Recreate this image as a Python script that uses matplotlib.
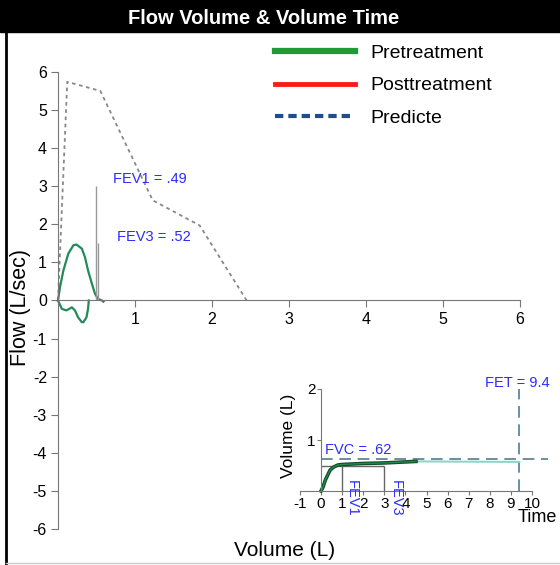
import numpy as np
import matplotlib.pyplot as plt
from matplotlib.lines import Line2D
from matplotlib.patches import Rectangle

plt.rcParams['font.family'] = ['Liberation Sans', 'DejaVu Sans']
plt.rcParams['axes.unicode_minus'] = False

title = "Flow Volume & Volume Time"

# flow-volume loop (pretreatment)
loop_vol = [0, 0.026, 0.07, 0.134, 0.2, 0.24, 0.31, 0.35, 0.39, 0.44, 0.48, 0.52, 0.57, 0.59]
loop_flow = [0, 0.35, 0.79, 1.23, 1.45, 1.47, 1.36, 1.14, 0.79, 0.44, 0.18, 0.04, 0.0, -0.03]
insp_vol = [0, 0.05, 0.11, 0.18, 0.22, 0.26, 0.31, 0.33, 0.37, 0.39, 0.40]
insp_flow = [0, -0.22, -0.26, -0.18, -0.26, -0.44, -0.57, -0.57, -0.44, -0.22, 0.0]

# predicted flow-volume
pred_vol = [0, 0.12, 0.55, 1.23, 1.84, 2.45]
pred_flow = [0, 5.74, 5.5, 2.63, 1.97, 0]

fev1_vol, fev1_mark = 0.49, 3.0
fev3_vol, fev3_mark = 0.52, 1.5

# volume-time (inset)
vt_time = [0, 0.1, 0.2, 0.43, 0.6, 0.8, 1.0, 1.5, 2.0, 3.0, 4.0, 4.5]
vt_vol = [0, 0.08, 0.21, 0.41, 0.47, 0.51, 0.52, 0.53, 0.54, 0.55, 0.57, 0.58]
tail_time = [4.5, 9.4]
tail_vol = [0.58, 0.57]
fvc = 0.62
fet = 9.4

legend_labels = ["Pretreatment", "Posttreatment", "Predicte"]
legend_colors = ["#1f9a3a", "#ff1a1a", "#1f4e8c"]

W, H = 560, 565
fig = plt.figure(figsize=(W / 100, H / 100), dpi=100)


def fx(px):
    return px / W


def fy(py):
    return 1 - py / H


# title bar and frame
fig.patches.append(Rectangle((0, fy(32)), 1, 32 / H, transform=fig.transFigure,
                             color="black", zorder=0))
fig.text(fx(264), fy(18), title, color="white", fontsize=14.5, fontweight="bold",
         ha="center", va="center")
fig.add_artist(Line2D([fx(6), fx(6)], [fy(32), 0], transform=fig.transFigure,
                      color="black", lw=2))
fig.add_artist(Line2D([fx(6), 1], [fy(563), fy(563)], transform=fig.transFigure,
                      color="#cccccc", lw=1))

# main axes: 0 -> px 58, 77 px per unit; y 0 -> px 300, 38 px per unit
x0, xs = 58, 77
y0, ys = 300.5, 38.1
l, r, t, b = 40, 545, 55, 545
ax = fig.add_axes([fx(l), fy(b), (r - l) / W, (b - t) / H])
ax.set_xlim((l - x0) / xs, (r - x0) / xs)
ax.set_ylim((y0 - b) / ys, (y0 - t) / ys)
ax.patch.set_alpha(0)
for s in ["top", "right"]:
    ax.spines[s].set_visible(False)
ax.spines["left"].set_position(("data", 0))
ax.spines["bottom"].set_position(("data", 0))
ax.spines["left"].set_bounds(-6, 6)
ax.spines["bottom"].set_bounds(0, 6)
for s in ["left", "bottom"]:
    ax.spines[s].set_color("#777777")
ax.set_xticks(range(1, 7))
ax.set_yticks(range(-6, 7))
ax.tick_params(direction="out", length=5, color="#777777", labelsize=11.5, pad=3)

ax.plot(pred_vol, pred_flow, color="#888888", lw=1.3, dashes=(2, 2))
ax.plot(loop_vol, loop_flow, color="#238a5a", lw=1.6)
ax.plot(insp_vol, insp_flow, color="#238a5a", lw=1.6)
ax.vlines([fev1_vol, fev3_vol], 0, [fev1_mark, fev3_mark], color="#999999", lw=1)
ax.text(0.71, 3.2, "FEV1 = .49", color="#2b2bff", fontsize=10.5, va="center")
ax.text(0.77, 1.66, "FEV3 = .52", color="#2b2bff", fontsize=10.5, va="center")

fig.text(fx(21), fy(307), "Flow (L/sec)", rotation=90, fontsize=15.5,
         ha="center", va="center")
fig.text(fx(285), fy(550), "Volume (L)", fontsize=15, ha="center", va="center")

handles = [Line2D([], [], color=legend_colors[0], lw=4.5),
           Line2D([], [], color=legend_colors[1], lw=3.5),
           Line2D([], [], color=legend_colors[2], lw=3, ls=(0, (2, 1.2)))]
fig.legend(handles, legend_labels, loc="upper left",
           bbox_to_anchor=(fx(275), fy(44)), bbox_transform=fig.transFigure,
           frameon=False, fontsize=14, handlelength=4.1, handletextpad=0.8,
           labelspacing=0.78, borderpad=0, borderaxespad=0)

# inset volume-time axes: t 0 -> px 321, 21.1 px/s; v 0 -> px 491, 51 px/L
ix0, ixs = 321, 21.1
iy0, iys = 491, 51
il, ir, it, ib = 292, 548, 380, 500
ins = fig.add_axes([fx(il), fy(ib), (ir - il) / W, (ib - it) / H])
ins.set_xlim((il - ix0) / ixs, (ir - ix0) / ixs)
ins.set_ylim((iy0 - ib) / iys, (iy0 - it) / iys)
ins.patch.set_alpha(0)
for s in ["top", "right"]:
    ins.spines[s].set_visible(False)
ins.spines["left"].set_position(("data", 0))
ins.spines["bottom"].set_position(("data", 0))
ins.spines["left"].set_bounds(0, 2)
ins.spines["bottom"].set_bounds(-1, 10)
for s in ["left", "bottom"]:
    ins.spines[s].set_color("#777777")
ins.set_xticks(range(-1, 11))
ins.set_yticks([1, 2])
ins.tick_params(direction="out", length=3, color="#777777", labelsize=11, pad=1)

ins.plot([0, 10.9], [fvc, fvc], color="#557a90", lw=1.2, dashes=(7, 4))
ins.vlines(fet, 0, 2.0, color="#557a90", lw=1.2, linestyles=(0, (7, 4)))
ins.hlines(0.5, 0, 3, color="#666666", lw=1)
ins.vlines([1, 3], 0, 0.5, color="#666666", lw=1)
ins.plot(tail_time, tail_vol, color="#8fd6c6", lw=1.5)
ins.plot(vt_time, vt_vol, color="#134a2a", lw=2.6)
ins.plot(vt_time, vt_vol, color="#1f8a4a", lw=1.0)

ins.text(7.77, 2.12, "FET = 9.4", color="#2b2bff", fontsize=10.5, va="center",
         clip_on=False)
ins.text(0.19, 0.8, "FVC = .62", color="#2b2bff", fontsize=10.5, va="center")
ins.text(1.47, 0.22, "FEV1", color="#2b2bff", fontsize=10.5, rotation=-90,
         ha="center", va="top", clip_on=False)
ins.text(3.55, 0.22, "FEV3", color="#2b2bff", fontsize=10.5, rotation=-90,
         ha="center", va="top", clip_on=False)

fig.text(fx(518), fy(518), "Time", fontsize=13, va="center")
fig.text(fx(288), fy(436), "Volume (L)", rotation=90, fontsize=12.5,
         ha="center", va="center")

fig.savefig("out.png", dpi=100)
